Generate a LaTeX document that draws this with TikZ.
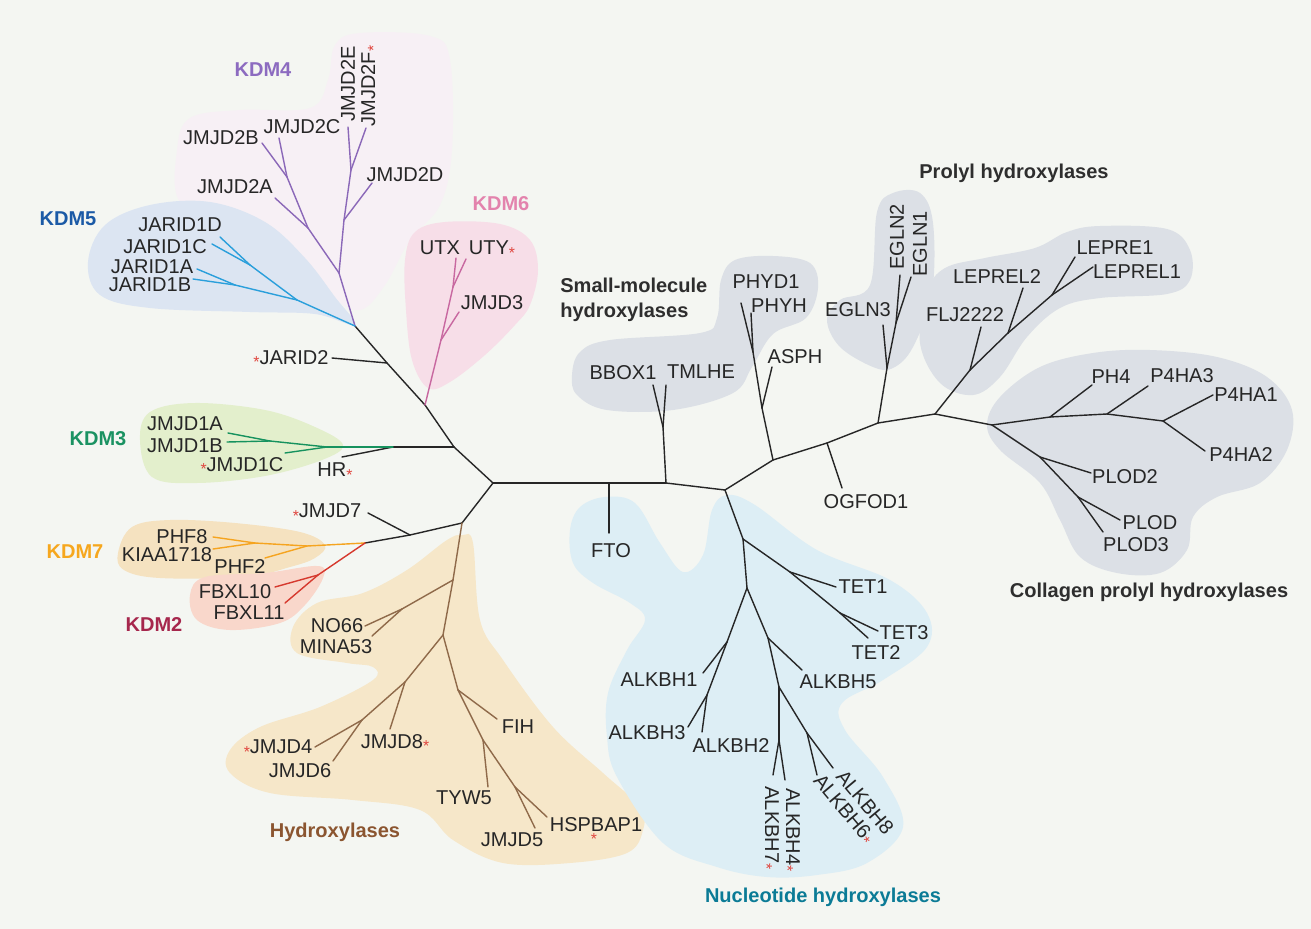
\documentclass[tikz,border=0pt]{standalone}
\usepackage{fontspec}
\setmainfont{Liberation Sans}
\usepackage{xcolor}
\usepackage{tikz}

\definecolor{bgin}{HTML}{F4F6F2}
\definecolor{bgmid}{HTML}{E9F0EA}
\definecolor{bgout}{HTML}{D3E3D8}
\definecolor{k4fill}{HTML}{F7F0F5}
\definecolor{k5fill}{HTML}{DCE5F2}
\definecolor{k6fill}{HTML}{F7DEE8}
\definecolor{k3fill}{HTML}{E3EFCC}
\definecolor{k7fill}{HTML}{F5E2C0}
\definecolor{k2fill}{HTML}{F9D7CB}
\definecolor{hyfill}{HTML}{F6E7C9}
\definecolor{nufill}{HTML}{DDEEF5}
\definecolor{grfill}{HTML}{DCE0E6}
\definecolor{k4line}{HTML}{8B68B8}
\definecolor{k5line}{HTML}{2A9FDB}
\definecolor{k6line}{HTML}{C868A0}
\definecolor{k3line}{HTML}{16925E}
\definecolor{k7line}{HTML}{F5A41F}
\definecolor{k2line}{HTML}{D6392E}
\definecolor{hyline}{HTML}{8F6A4A}
\definecolor{k4txt}{HTML}{8C6BC0}
\definecolor{k5txt}{HTML}{1B5AA6}
\definecolor{k6txt}{HTML}{E383AD}
\definecolor{k3txt}{HTML}{1A9262}
\definecolor{k7txt}{HTML}{F6A71E}
\definecolor{k2txt}{HTML}{A6274D}
\definecolor{hytxt}{HTML}{8B5530}
\definecolor{nutxt}{HTML}{0B7B96}
\definecolor{labtext}{HTML}{262626}
\definecolor{grptxt}{HTML}{2E2E2E}
\definecolor{starred}{HTML}{E0463F}

\pgfdeclareradialshading{vign}{\pgfpoint{0bp}{0bp}}{color(0bp)=(bgin); color(36bp)=(bgin); color(50bp)=(bgmid); color(71bp)=(bgout)}

\newcommand{\lab}{\fontsize{11.4}{13.7}\selectfont}
\newcommand{\grplab}{\fontsize{11.4}{14.2}\selectfont\bfseries}
\newcommand{\rst}{{\fontsize{9}{9}\selectfont\color{starred}\raisebox{-0.25em}{*}}}

\begin{document}
\begin{tikzpicture}[x=0.02cm, y=-0.02cm,
    every node/.style={inner sep=0pt, font=\lab, text=labtext},
    grp/.style={font=\grplab},
    br/.style={line width=0.8pt, line cap=round, line join=round},
    blob/.style={smooth cycle, tension=0.6}]
  \useasboundingbox (0,0) rectangle (1311,929);
  \shade[shading=vign] (0,0) rectangle (1311,929);

  % Shaded families
  \fill[k4fill] plot[blob] coordinates {(177,150) (190,118) (240,110) (310,108) (328,80) (335,45) (360,33) (430,36) (450,60) (452,150) (440,205) (410,240) (385,285) (360,310) (330,295) (295,255) (230,222) (180,202)};
  \fill[k5fill] plot[blob] coordinates {(88,262) (105,225) (150,205) (210,202) (265,222) (305,258) (335,297) (355,325) (315,314) (250,312) (150,308) (100,295)};
  \fill[k6fill] plot[blob] coordinates {(405,260) (415,232) (445,222) (500,224) (530,240) (538,270) (530,305) (515,325) (485,355) (450,382) (428,388) (412,360) (406,310)};
  \fill[k3fill] plot[blob] coordinates {(140,440) (150,412) (195,403) (265,410) (315,427) (343,445) (322,460) (265,476) (197,483) (152,477)};
  \fill[k7fill] plot[blob] coordinates {(118,553) (132,527) (170,520) (235,523) (300,532) (325,545) (315,558) (290,567) (245,577) (160,578) (124,570)};
  \fill[k2fill] plot[blob] coordinates {(190,595) (205,577) (265,573) (318,566) (323,578) (305,605) (280,623) (230,630) (197,620)};
  \fill[hyfill] plot[blob] coordinates {(463,535) (473,543) (480,620) (503,660) (553,727) (603,773) (640,807) (643,830) (627,853) (570,863) (503,863) (453,840) (420,810) (353,800) (270,793) (230,773) (230,750) (260,727) (320,707) (373,680) (373,667) (347,663) (297,653) (293,627) (317,603) (363,593) (407,570) (447,540)};
  \fill[nufill] plot[blob] coordinates {(570,530) (580,507) (605,497) (635,503) (660,543) (683,572) (703,555) (712,510) (727,495) (755,505) (817,550) (890,580) (927,613) (927,647) (883,680) (842,703) (845,730) (883,777) (903,827) (867,863) (817,875) (767,877) (717,867) (663,843) (617,777) (607,737) (608,693) (627,650) (645,620) (630,603) (593,583) (573,563)};
  \fill[grfill] plot[blob] coordinates {(572,375) (580,352) (610,340) (700,333) (717,318) (721,280) (735,260) (773,256) (810,263) (818,288) (806,318) (773,334) (752,367) (733,393) (673,410) (607,410) (577,395)};
  \fill[grfill] plot[blob] coordinates {(827,320) (840,300) (870,285) (877,212) (893,193) (920,193) (933,223) (932,293) (913,347) (893,368) (873,367) (840,347)};
  \fill[grfill] plot[blob] coordinates {(920,343) (927,292) (945,268) (985,258) (1035,248) (1067,232) (1100,226) (1167,229) (1190,250) (1190,280) (1167,294) (1100,298) (1060,308) (1027,337) (1000,377) (973,395) (940,383)};
  \fill[grfill] plot[blob] coordinates {(987,425) (1000,397) (1040,367) (1093,353) (1150,350) (1217,357) (1267,377) (1292,410) (1287,450) (1260,483) (1217,497) (1193,517) (1187,550) (1160,573) (1117,573) (1080,557) (1060,520) (1040,483) (1000,450)};

  % Branch points and tips
  \foreach \n/\x/\y in {r/493/483, a/355/326, j2/387/363, j2e/332/358, p6/425/405, k3/454/447, g0/393/447, hre/342/457, lo/462/523, j7/410/535, j7e/368/513, k7/365/543,
      fto/609/483, ftoe/609/533, sm/666/483, n0/725/490, p/773/460, og/827/443, oge/842/488, eg/878/423, pr/935/414, co/992/425,
      smj/663/427, bbe/653/385, tme/666/385, asj/762/408, ase/772/367, phj/753/352, pd1e/741/303, phe/751/313,
      e3j/887/368, e3e/883/325, e12j/896/323, e2e/900/275, e1e/911/277, fj/970/370, fje/981/327, l2j/1008/333, l2e/1023/288, l1j/1052/295, le1e/1075/257, l1e/1093/267,
      ph4j/1050/417, ph4e/1092/385, a3j/1107/414, a3e/1148/386, a12j/1163/421, a1e/1213/395, a2e/1205/451, pl2j/1040/457, pl2e/1091/473, plj/1078/497, ple/1120/520, pl3e/1103/532,
      tj/743/539, t1j/790/572, t1e/836/587, t23j/840/613, t3e/878/631, t2e/868/638, aj/747/588, h1j/727/642, h1e/703/673, h23j/707/695, h3e/688/727, h2e/702/732,
      h5j/768/638, h5e/802/670, h47/779/687, h74j/779/740, h7e/773/775, h4e/785/780, h68j/807/733, h6e/817/775, h8e/833/768,
      k4/339/273, k4a/308/228, d2ae/275/198, bcj/287/177, d2be/262/143, d2ce/279/138, k4r/344/220, d2de/372/183, efj/351/170, d2ee/348/127, d2fe/366/128,
      bj/297/300, dcj/250/265, d1de/220/237, d1ce/212/244, abj/235/285, d1ae/197/269, d1be/193/279,
      j3j/441/340, j3e/459/312, uj/453/287, utxe/456/258, utye/466/259,
      g1/327/447, c1ce/285/453, g2/270/441, c1ae/228/433, c1be/227/442,
      o1/307/546, f2e/265/558, o2/255/543, f8e/213/537, kiae/213/549, rj/318/575, f10e/275/587, f11e/285/603,
      b1/453/580, nm/402/609, no66e/365/626, mnae/372/636, b2/443/635, b3/405/682, j8e/390/729, b4/362/720, j4e/315/747, j6e/333/761,
      b5/458/690, fihe/497/719, b6/483/740, tye/488/787, b7/515/787, j5e/535/828, hspe/547/817}
    \coordinate (\n) at (\x,\y);

  % Black backbone
  \foreach \a/\b in {r/k3, k3/p6, p6/j2, j2/a, j2/j2e, k3/g0, g0/hre, r/lo, lo/j7, j7/k7, j7/j7e,
      r/fto, fto/ftoe, fto/sm, sm/n0, n0/p, p/og, og/oge, og/eg, eg/pr, pr/co,
      sm/smj, smj/bbe, smj/tme, p/asj, asj/ase, asj/phj, phj/pd1e, phj/phe,
      eg/e3j, e3j/e3e, e3j/e12j, e12j/e2e, e12j/e1e, pr/fj, fj/fje, fj/l2j, l2j/l2e, l2j/l1j, l1j/le1e, l1j/l1e,
      co/ph4j, ph4j/ph4e, ph4j/a3j, a3j/a3e, a3j/a12j, a12j/a1e, a12j/a2e, co/pl2j, pl2j/pl2e, pl2j/plj, plj/ple, plj/pl3e,
      n0/tj, tj/t1j, t1j/t1e, t1j/t23j, t23j/t3e, t23j/t2e, tj/aj, aj/h1j, h1j/h1e, h1j/h23j, h23j/h3e, h23j/h2e,
      aj/h5j, h5j/h5e, h5j/h47, h47/h74j, h74j/h7e, h74j/h4e, h47/h68j, h68j/h6e, h68j/h8e}
    \draw[br, black!85] (\a) -- (\b);
  % Coloured families
  \foreach \a/\b in {a/k4, k4/k4a, k4a/d2ae, k4a/bcj, bcj/d2be, bcj/d2ce, k4/k4r, k4r/d2de, k4r/efj, efj/d2ee, efj/d2fe}
    \draw[br, k4line] (\a) -- (\b);
  \foreach \a/\b in {a/bj, bj/dcj, dcj/d1de, dcj/d1ce, bj/abj, abj/d1ae, abj/d1be}
    \draw[br, k5line] (\a) -- (\b);
  \foreach \a/\b in {p6/j3j, j3j/j3e, j3j/uj, uj/utxe, uj/utye}
    \draw[br, k6line] (\a) -- (\b);
  \foreach \a/\b in {g0/g1, g1/c1ce, g1/g2, g2/c1ae, g2/c1be}
    \draw[br, k3line] (\a) -- (\b);
  \foreach \a/\b in {k7/o1, o1/f2e, o1/o2, o2/f8e, o2/kiae}
    \draw[br, k7line] (\a) -- (\b);
  \foreach \a/\b in {k7/rj, rj/f10e, rj/f11e}
    \draw[br, k2line] (\a) -- (\b);
  \foreach \a/\b in {lo/b1, b1/nm, nm/no66e, nm/mnae, b1/b2, b2/b3, b3/j8e, b3/b4, b4/j4e, b4/j6e, b2/b5, b5/fihe, b5/b6, b6/tye, b6/b7, b7/j5e, b7/hspe}
    \draw[br, hyline] (\a) -- (\b);

  % Enzyme names
  \foreach \n/\x/\y/\t in {l2b/221/138/JMJD2B, l2c/302/127/JMJD2C, l2a/235/187/JMJD2A, l2d/405/175/JMJD2D,
      l1d/180/225/JARID1D, l1c/165/247/JARID1C, l1a/152/267/JARID1A, l1b/150/285/JARID1B,
      lutx/440/248/UTX, luty/492/250/UTY\rst, lj3/492/303/JMJD3, ljar/291/359/\rst JARID2,
      l1ja/185/424/JMJD1A, l1jb/185/446/JMJD1B, l1jc/242/466/\rst JMJD1C, lhr/335/472/HR\rst, lj7/327/513/\rst JMJD7,
      lph8/182/537/PHF8, lkia/167/555/KIAA1718, lph2/240/567/PHF2, lf10/235/592/FBXL10, lf11/249/613/FBXL11,
      lno/337/626/NO66, lmi/336/647/MINA53, lj8/395/743/JMJD8\rst, lj4/278/749/\rst JMJD4, lj6/300/771/JMJD6,
      lfih/518/727/FIH, lty/464/798/TYW5, lj5/512/840/JMJD5, lhsp/596/825/HSPBAP1,
      lfto/611/551/FTO, lt1/863/587/TET1, lt3/904/633/TET3, lt2/876/653/TET2, lh1/659/680/ALKBH1, lh3/647/733/ALKBH3, lh2/731/745/ALKBH2, lh5/838/682/ALKBH5,
      lbb/623/373/BBOX1, ltm/701/372/TMLHE, las/795/357/ASPH, lpd/766/282/PHYD1, lphy/779/306/PHYH, log/866/502/OGFOD1,
      le3/858/310/EGLN3, lflj/965/315/FLJ2222, lle2/997/277/LEPREL2, lle1/1115/248/LEPRE1, ll1/1137/272/LEPREL1,
      lph4/1111/377/PH4, la3/1182/376/P4HA3, la1/1246/395/P4HA1, la2/1241/455/P4HA2, lpl2/1125/477/PLOD2, lpl/1150/523/PLOD, lpl3/1136/545/PLOD3}
    \node (\n) at (\x,\y) {\t};
  \foreach \n/\x/\y/\r/\t in {l2e/348/84/90/JMJD2E, l2f/370/86/90/JMJD2F\rst, le2/897/237/90/EGLN2, le1/920/244/90/EGLN1,
      lh7/770/828/-90/ALKBH7\rst, lh4/791/830/-90/ALKBH4\rst, lh8/865/802/-50/ALKBH8, lh6/843/810/-50/ALKBH6\rst}
    \node[rotate=\r] (\n) at (\x,\y) {\t};
  \node (hsst) at (594,839) {\rst};

  % Family names
  \foreach \n/\x/\y/\c/\t in {gk4/263/70/k4txt/KDM4, gk5/68/219/k5txt/KDM5, gk6/501/204/k6txt/KDM6, gk3/98/439/k3txt/KDM3,
      gk7/75/552/k7txt/KDM7, gk2/154/625/k2txt/KDM2, ghy/335/832/hytxt/Hydroxylases, gnu/823/897/nutxt/Nucleotide hydroxylases,
      gpr/1014/173/grptxt/Prolyl hydroxylases, gco/1149/592/grptxt/Collagen prolyl hydroxylases}
    \node[grp, text=\c] (\n) at (\x,\y) {\t};
  \node[grp, text=grptxt, align=left, anchor=west] (gsm) at (560,300) {Small-molecule\\hydroxylases};
\end{tikzpicture}
\end{document}
